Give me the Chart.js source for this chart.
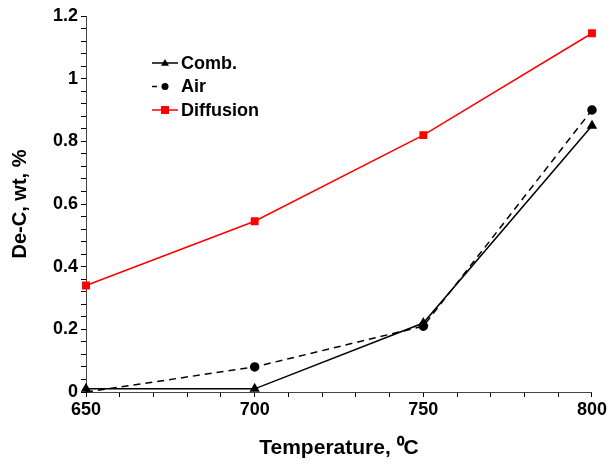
<!DOCTYPE html>
<html>
<head>
<meta charset="utf-8">
<script src="https://cdn.jsdelivr.net/npm/chart.js@4"></script>
<style>
  html, body { margin: 0; padding: 0; background: #fff; }
  #wrap { width: 609px; height: 465px; }
</style>
</head>
<body>
<div id="wrap"><canvas id="deC"></canvas></div>
<script>
// temperature (C) and decarburisation depth (wt %)
const temps = [650, 700, 750, 800];
const comb = [0.01, 0.01, 0.22, 0.85];
const air = [0, 0.08, 0.21, 0.9];
const diffusion = [0.34, 0.545, 0.82, 1.145];
const yTicks = [0, 0.2, 0.4, 0.6, 0.8, 1, 1.2];
const xTicks = [650, 700, 750, 800];

const FONT = "'Liberation Sans', Arial, sans-serif";

const toXY = vals => temps.map((t, i) => ({ x: t, y: vals[i] }));

// legend: short line with marker, then bold label
const lineLegend = {
  id: "lineLegend",
  afterDraw(chart) {
    const ctx = chart.ctx;
    const x0 = 152, x1 = 178, tx = 181;
    let y = 63;
    chart.data.datasets.forEach(ds => {
      ctx.save();
      ctx.strokeStyle = ds.borderColor;
      ctx.lineWidth = 1.5;
      ctx.beginPath();
      ctx.moveTo(x0, y);
      ctx.lineTo(ds.borderDash.length ? x0 + 5 : x1, y);
      ctx.stroke();
      ctx.fillStyle = ds.pointBackgroundColor;
      const cx = (x0 + x1) / 2, r = 4;
      ctx.beginPath();
      if (ds.pointStyle === "triangle") {
        ctx.moveTo(cx, y - r); ctx.lineTo(cx + r, y + r * 0.7); ctx.lineTo(cx - r, y + r * 0.7);
        ctx.closePath();
      } else if (ds.pointStyle === "rect") {
        ctx.rect(cx - r, y - r, r * 2, r * 2);
      } else {
        ctx.arc(cx, y, 3.5, 0, Math.PI * 2);
      }
      ctx.fill();
      ctx.fillStyle = "#000";
      ctx.font = "bold 18px " + FONT;
      ctx.textBaseline = "middle";
      ctx.fillText(ds.label, tx, y + 1);
      ctx.restore();
      y += 23.5;
    });
  }
};

new Chart(document.getElementById("deC"), {
  type: "line",
  data: {
    datasets: [
      {
        label: "Comb.",
        data: toXY(comb),
        borderColor: "#000",
        borderWidth: 1.5,
        pointStyle: "triangle",
        pointRadius: 4.5,
        pointBackgroundColor: "#000",
        pointBorderColor: "#000",
        borderDash: []
      },
      {
        label: "Air",
        data: toXY(air),
        borderColor: "#000",
        borderWidth: 1.5,
        borderDash: [7, 5],
        pointStyle: "circle",
        // the 650 point sits on the axis and is hidden there
        pointRadius: [0, 4, 4, 4],
        pointBackgroundColor: "#000",
        pointBorderColor: "#000"
      },
      {
        label: "Diffusion",
        data: toXY(diffusion),
        borderColor: "#ff0000",
        borderWidth: 1.5,
        pointStyle: "rect",
        pointRadius: 4.5,
        pointBackgroundColor: "#ff0000",
        pointBorderColor: "#ff0000",
        borderDash: []
      }
    ]
  },
  options: {
    responsive: true,
    maintainAspectRatio: false,
    animation: false,
    clip: false,
    layout: { padding: { top: 16, right: 17, left: 8, bottom: 0 } },
    plugins: {
      legend: { display: false },
      tooltip: { enabled: false }
    },
    scales: {
      x: {
        type: "linear",
        min: 650,
        max: 800,
        afterFit: s => { s.height = 73; },
        afterBuildTicks: s => {
          s.ticks = [];
          for (let v = 650; v <= 800; v += 10) s.ticks.push({ value: v });
        },
        border: { display: true, color: "#444", width: 1 },
        grid: { drawOnChartArea: false, drawTicks: true, tickLength: 5, color: "#000" },
        ticks: {
          color: "#000",
          padding: 2,
          maxRotation: 0,
          autoSkip: false,
          font: { family: FONT, size: 18, weight: "bold" },
          callback: v => xTicks.includes(v) ? String(v) : ""
        },
        title: {
          display: true,
          text: "Temperature, \u2070C",
          color: "#000",
          padding: { top: 6 },
          font: { family: FONT, size: 21, weight: "bold" }
        }
      },
      y: {
        min: 0,
        max: 1.2,
        afterFit: s => { s.width = 78; },
        afterBuildTicks: s => {
          s.ticks = [];
          for (let i = 0; i <= 30; i++) s.ticks.push({ value: i * 0.04 });
        },
        border: { display: true, color: "#444", width: 1 },
        grid: { drawOnChartArea: false, drawTicks: true, tickLength: 5, color: "#000" },
        ticks: {
          color: "#000",
          padding: 3,
          autoSkip: false,
          font: { family: FONT, size: 18, weight: "bold" },
          callback: v => {
            const hit = yTicks.find(t => Math.abs(t - v) < 1e-6);
            return hit === undefined ? "" : String(hit);
          }
        },
        title: {
          display: true,
          text: "De-C, wt, %",
          color: "#000",
          padding: { top: 0, bottom: 12 },
          font: { family: FONT, size: 20, weight: "bold" }
        }
      }
    }
  },
  plugins: [lineLegend]
});
</script>
</body>
</html>
